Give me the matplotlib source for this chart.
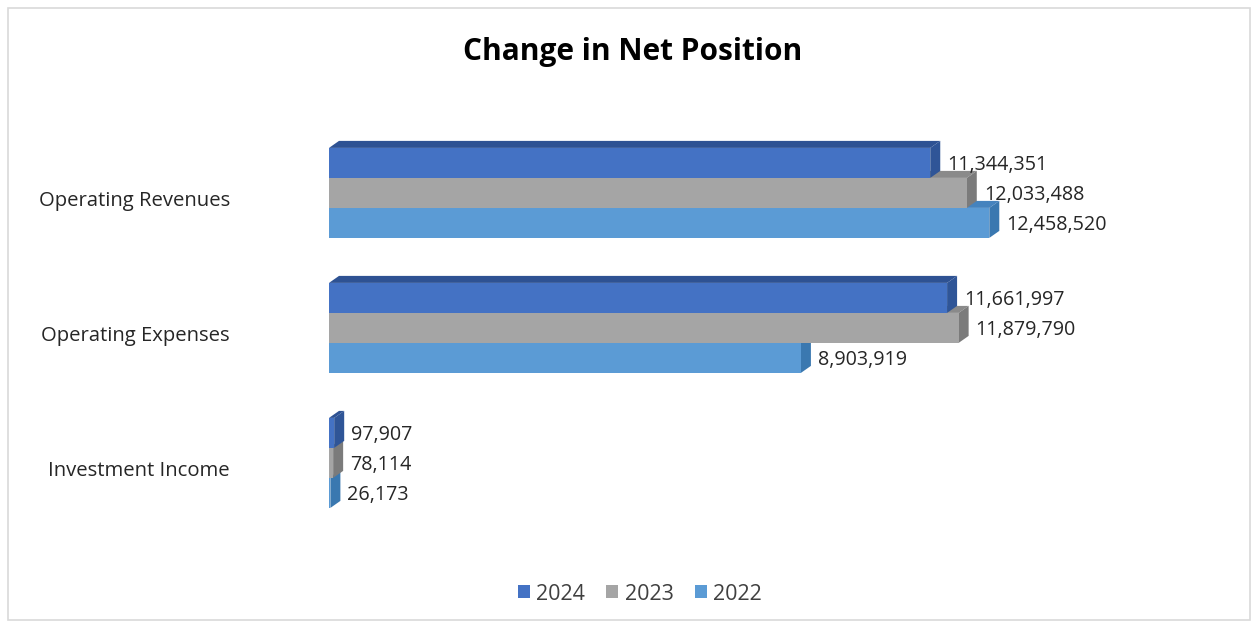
import numpy as np
import matplotlib
matplotlib.use("Agg")
import matplotlib.pyplot as plt
from matplotlib.patches import Polygon, Rectangle, Patch

plt.rcParams['font.family'] = ['Open Sans', 'DejaVu Sans']

categories = ["Operating Revenues", "Operating Expenses", "Investment Income"]
years = ["2024", "2023", "2022"]
v2024 = [11344351, 11661997, 97907]
v2023 = [12033488, 11879790, 78114]
v2022 = [12458520, 8903919, 26173]
values = [v2024, v2023, v2022]

front = ["#4472C4", "#A5A5A5", "#5B9BD5"]
side = ["#2F5597", "#7B7B7B", "#3A78B0"]
top = ["#2E5293", "#8A8A8A", "#4583BE"]

W, H = 1258, 625
fig = plt.figure(figsize=(W / 100, H / 100), dpi=100)

# axes placed in pixels
ax_l, ax_r, ax_t, ax_b = 329, 1200, 120, 540
ax = fig.add_axes([ax_l / W, 1 - ax_b / H, (ax_r - ax_l) / W, (ax_b - ax_t) / H])
px_per_m = 53.0
xmax = (ax_r - ax_l) / px_per_m * 1e6
ylim_top, ylim_bot = -0.54, -0.54 + (ax_b - ax_t) / 135.0
ax.set_xlim(0, xmax)
ax.set_ylim(ylim_bot, ylim_top)
ax.axis("off")

dx = 10 / px_per_m * 1e6     # depth in data units
dy = 7 / 135.0
h = 30 / 135.0

y = np.arange(len(categories))
offsets = [-h, 0, h]

# draw bottom series first so upper bars cover their top faces
for s in [2, 1, 0]:
    for i, v in enumerate(values[s]):
        yc = y[i] + offsets[s]
        y0, y1 = yc + h / 2, yc - h / 2   # y0 bottom, y1 top (inverted axis)
        ax.add_patch(Polygon([(0, y1), (dx, y1 - dy), (v + dx, y1 - dy), (v, y1)],
                             closed=True, facecolor=top[s], edgecolor="none"))
        ax.add_patch(Polygon([(v, y1), (v + dx, y1 - dy), (v + dx, y0 - dy), (v, y0)],
                             closed=True, facecolor=side[s], edgecolor="none"))
        ax.barh(yc, v, height=h, color=front[s], edgecolor="none")
        ax.annotate(f"{v:,}", (v, yc), xytext=(17, -2), textcoords="offset pixels",
                    ha="left", va="center", fontsize=14.2, color="#262626")

for i, c in enumerate(categories):
    fig.text(230 / W, 1 - (201 + 135 * i) / H, c, ha="right", va="center",
             fontsize=14.6, color="#262626")

fig.text(633 / W, 1 - 52 / H, "Change in Net Position", ha="center", va="center",
         fontsize=21.5, fontweight="bold", color="#000000")

handles = [Patch(facecolor=front[s], edgecolor="none") for s in range(3)]
fig.legend(handles, years, loc="center", bbox_to_anchor=(640 / W, 1 - 594 / H),
           ncol=3, frameon=False, fontsize=15.5, handlelength=0.55, handleheight=0.55,
           handletextpad=0.3, columnspacing=1.0, labelcolor="#404040")

fig.patches.append(Rectangle((8 / W, 5 / H), 1242 / W, 612 / H, transform=fig.transFigure,
                             fill=False, edgecolor="#D9D9D9", linewidth=1.2))

fig.savefig("out.png", dpi=100)
